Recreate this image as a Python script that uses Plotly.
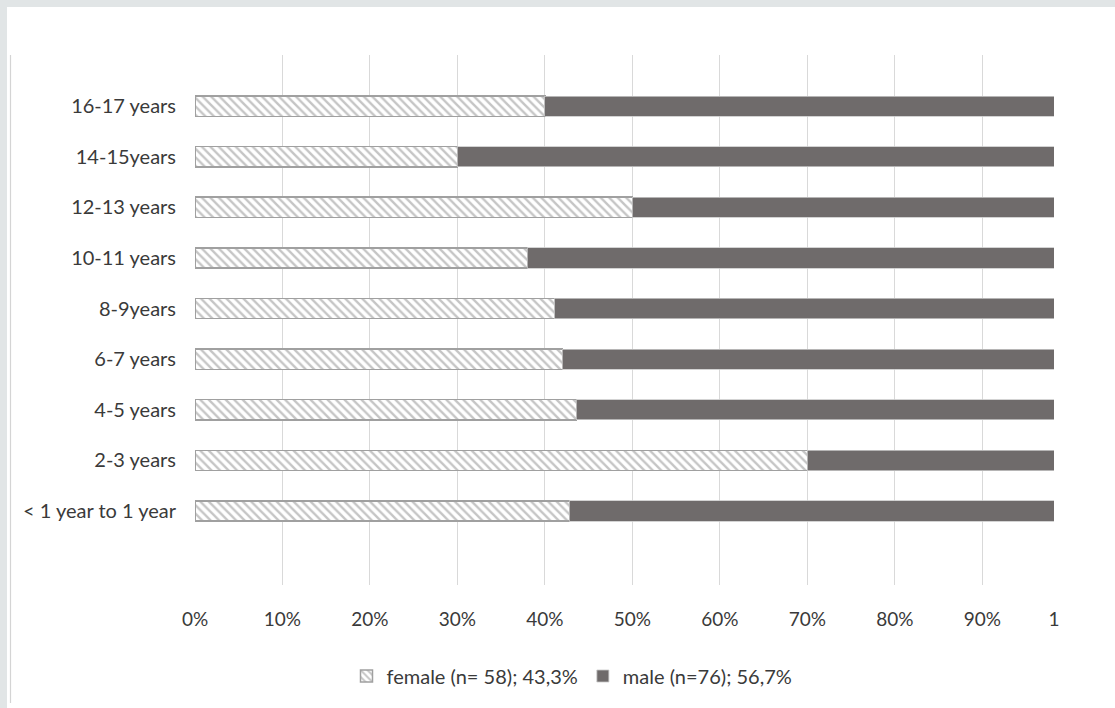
import plotly.graph_objects as go

categories = ["< 1 year to 1 year", "2-3 years", "4-5 years", "6-7 years", "8-9years",
              "10-11 years", "12-13 years", "14-15years", "16-17 years"]
female = [0.428, 0.70, 0.436, 0.42, 0.411, 0.38, 0.50, 0.30, 0.40]
male = [0.554, 0.282, 0.546, 0.562, 0.571, 0.602, 0.482, 0.682, 0.582]
tick_vals = [0, 0.1, 0.2, 0.3, 0.4, 0.5, 0.6, 0.7, 0.8, 0.9, 0.982]
tick_text = ["0%", "10%", "20%", "30%", "40%", "50%", "60%", "70%", "80%", "90%", "1"]
female_name = "female (n= 58); 43,3%"
male_name = "male (n=76); 56,7%"

W, H = 1115, 708
L, R, T, B = 195, 61, 55, 123
pw, ph = W - L - R, H - T - B

def px(x):
    return (x - L) / pw

def py(y):
    return (H - B - y) / ph

FONT = "Lato"
TXT = "#3a3a3a"

fig = go.Figure()
fig.add_trace(go.Bar(
    y=categories, x=female, orientation="h", name=female_name,
    marker=dict(color="white", line=dict(color="#a0a0a0", width=1.5),
                pattern=dict(shape="\\", fgcolor="#8c8c8c", bgcolor="white", size=6, solidity=0.4)),
    width=0.4,
))
fig.add_trace(go.Bar(
    y=categories, x=male, orientation="h", name=male_name,
    marker=dict(color="#6f6b6b", line=dict(color="#c8c8c8", width=0.8)),
    width=0.4,
))

fig.update_layout(
    barmode="stack",
    width=W, height=H,
    margin=dict(l=L, r=R, t=T, b=B, autoexpand=False),
    paper_bgcolor="#e1e5e6",
    plot_bgcolor="white",
    font=dict(family=FONT, size=20, color=TXT),
    showlegend=True,
    legend=dict(orientation="h", x=px(572), xanchor="center", y=py(676), yanchor="middle",
                bgcolor="rgba(0,0,0,0)", font=dict(size=20, color=TXT), traceorder="normal"),
    xaxis=dict(range=[0, 0.982], tickvals=tick_vals, ticktext=tick_text,
               showgrid=True, gridcolor="#d9d9d9", gridwidth=1, zeroline=False,
               showline=False, ticks="", ticklabelstandoff=21, fixedrange=True,
               tickfont=dict(size=19)),
    yaxis=dict(categoryorder="array", categoryarray=categories, range=[-1.46, 9.01],
               showgrid=False, zeroline=False, showline=False, ticks="",
               ticklabelstandoff=18),
    shapes=[
        dict(type="rect", xref="paper", yref="paper", x0=px(7), x1=px(W + 5), y0=py(H + 5), y1=py(7),
             fillcolor="white", line=dict(width=0), layer="below"),
        dict(type="line", xref="paper", yref="paper", x0=px(10.5), x1=px(10.5), y0=py(55), y1=py(703),
             line=dict(color="#d4d4d4", width=1.2), layer="below"),
    ],
)

fig.write_html("out.html")
